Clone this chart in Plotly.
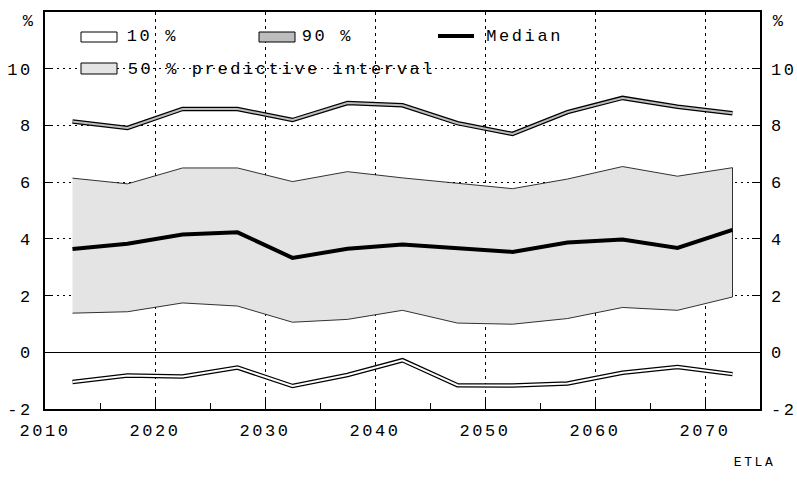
import plotly.graph_objects as go

years = [2012.5, 2017.5, 2022.5, 2027.5, 2032.5, 2037.5, 2042.5,
         2047.5, 2052.5, 2057.5, 2062.5, 2067.5, 2072.5]
median = [3.64, 3.83, 4.15, 4.23, 3.33, 3.65, 3.80, 3.66, 3.54, 3.87, 3.98, 3.68, 4.32]
p50_upper = [6.14, 5.94, 6.50, 6.50, 6.02, 6.37, 6.15, 5.96, 5.77, 6.11, 6.55, 6.21, 6.51]
p50_lower = [1.38, 1.43, 1.74, 1.63, 1.06, 1.16, 1.48, 1.03, 0.99, 1.19, 1.58, 1.48, 1.95]
p90 = [8.14, 7.91, 8.58, 8.58, 8.19, 8.79, 8.71, 8.08, 7.70, 8.47, 8.97, 8.66, 8.43]
p10 = [-1.05, -0.82, -0.85, -0.54, -1.19, -0.80, -0.28, -1.16, -1.17, -1.10, -0.72, -0.52, -0.77]

x_ticks = [2010, 2020, 2030, 2040, 2050, 2060, 2070]
y_ticks = [-2, 0, 2, 4, 6, 8, 10]
y_tick_labels = ["-2", "0", "2", "4", "6", "8", "10"]

FONT = "Courier New, Liberation Mono, monospace"
FS = 17
BAND = "#e4e4e4"
GRAY90 = "#bdbdbd"

fig = go.Figure()

# 50 % predictive interval (closed polygon)
fig.add_trace(go.Scatter(
    x=years + years[::-1], y=p50_upper + p50_lower[::-1],
    fill="toself", fillcolor=BAND, mode="lines",
    line=dict(color="black", width=0.8), showlegend=False, hoverinfo="skip"))

# 90 % double line
fig.add_trace(go.Scatter(x=years, y=p90, mode="lines",
                         line=dict(color="black", width=4.5), showlegend=False))
fig.add_trace(go.Scatter(x=years, y=p90, mode="lines",
                         line=dict(color=GRAY90, width=2), showlegend=False))
# 10 % double line
fig.add_trace(go.Scatter(x=years, y=p10, mode="lines",
                         line=dict(color="black", width=4.5), showlegend=False))
fig.add_trace(go.Scatter(x=years, y=p10, mode="lines",
                         line=dict(color="white", width=2), showlegend=False))
# Median
fig.add_trace(go.Scatter(x=years, y=median, mode="lines",
                         line=dict(color="black", width=4), showlegend=False))
# dummy for right axis
fig.add_trace(go.Scatter(x=[None], y=[None], yaxis="y2", showlegend=False))

tickfont = dict(family=FONT, size=FS, color="black")

fig.update_layout(
    width=797, height=497,
    margin=dict(l=45, r=37, t=12, b=88, autoexpand=False),
    paper_bgcolor="white", plot_bgcolor="white",
    font=dict(family=FONT, size=FS, color="black"),
    xaxis=dict(range=[2010, 2075], tickvals=x_ticks, ticks="inside", ticklen=10,
               tickcolor="black", tickwidth=1.2, automargin=False,
               minor=dict(ticks="inside", ticklen=6, dtick=5, tick0=2010,
                          tickcolor="black", showgrid=False),
               showgrid=True, gridcolor="black", griddash="3px,4px", gridwidth=1,
               showline=True, mirror=True, linecolor="black", linewidth=1.5,
               zeroline=False, tickfont=tickfont, ticklabelstandoff=5),
    yaxis=dict(range=[-2, 12], tickvals=y_ticks, ticktext=y_tick_labels,
               ticks="inside", ticklen=8,
               tickcolor="black", tickwidth=1.2, automargin=False,
               showgrid=True, gridcolor="black", griddash="2px,4px", gridwidth=1,
               zeroline=True, zerolinecolor="black", zerolinewidth=1,
               showline=True, mirror=True, linecolor="black", linewidth=1.5,
               tickfont=tickfont, ticklabelstandoff=7),
    yaxis2=dict(range=[-2, 12], tickvals=y_ticks, ticktext=y_tick_labels,
                ticks="inside", ticklen=8,
                tickcolor="black", tickwidth=1.2, overlaying="y", side="right",
                automargin=False,
                showgrid=False, zeroline=False, showline=False,
                tickfont=tickfont, ticklabelstandoff=10),
)

def px_x(x):
    return (x - 45) / 715.0

def px_y(y):
    return (409 - y) / 397.0

annots = [
    dict(text="%", x=px_x(29), y=px_y(21)),
    dict(text="%", x=px_x(779), y=px_y(21)),
    dict(text="10 %", x=px_x(153), y=px_y(37)),
    dict(text="90 %", x=px_x(328), y=px_y(37)),
    dict(text="Median", x=px_x(524), y=px_y(37)),
    dict(text="50 % predictive interval", x=px_x(281), y=px_y(69)),
]
for a in annots:
    fig.add_annotation(xref="paper", yref="paper", showarrow=False,
                       xanchor="center", yanchor="middle",
                       font=dict(family=FONT, size=FS, color="black"), **a)
fig.add_annotation(text="ETLA", xref="paper", yref="paper", x=px_x(754), y=px_y(462),
                   showarrow=False, xanchor="center", yanchor="middle",
                   font=dict(family=FONT, size=13, color="black"))

# legend swatches
fig.add_shape(type="rect", xref="paper", yref="paper", x0=px_x(81), x1=px_x(117),
              y0=px_y(42), y1=px_y(32), fillcolor="white", line=dict(color="black", width=1))
fig.add_shape(type="rect", xref="paper", yref="paper", x0=px_x(259), x1=px_x(295),
              y0=px_y(42), y1=px_y(32), fillcolor=GRAY90, line=dict(color="black", width=1))
fig.add_shape(type="line", xref="paper", yref="paper", x0=px_x(438), x1=px_x(474),
              y0=px_y(36), y1=px_y(36), line=dict(color="black", width=4))
fig.add_shape(type="rect", xref="paper", yref="paper", x0=px_x(81), x1=px_x(117),
              y0=px_y(74), y1=px_y(63), fillcolor=BAND, line=dict(color="black", width=1))

post = """
document.body.style.margin = '0';
document.body.style.padding = '0';
var gd = document.getElementById('{plot_id}');
function ls(){ gd.querySelectorAll('text').forEach(function(t){ t.style.letterSpacing='2.6px'; }); }
ls();
if (gd.on) { gd.on('plotly_afterplot', ls); }
setTimeout(ls, 50);
"""

fig.write_html("out.html", post_script=post, config={"displayModeBar": False})
